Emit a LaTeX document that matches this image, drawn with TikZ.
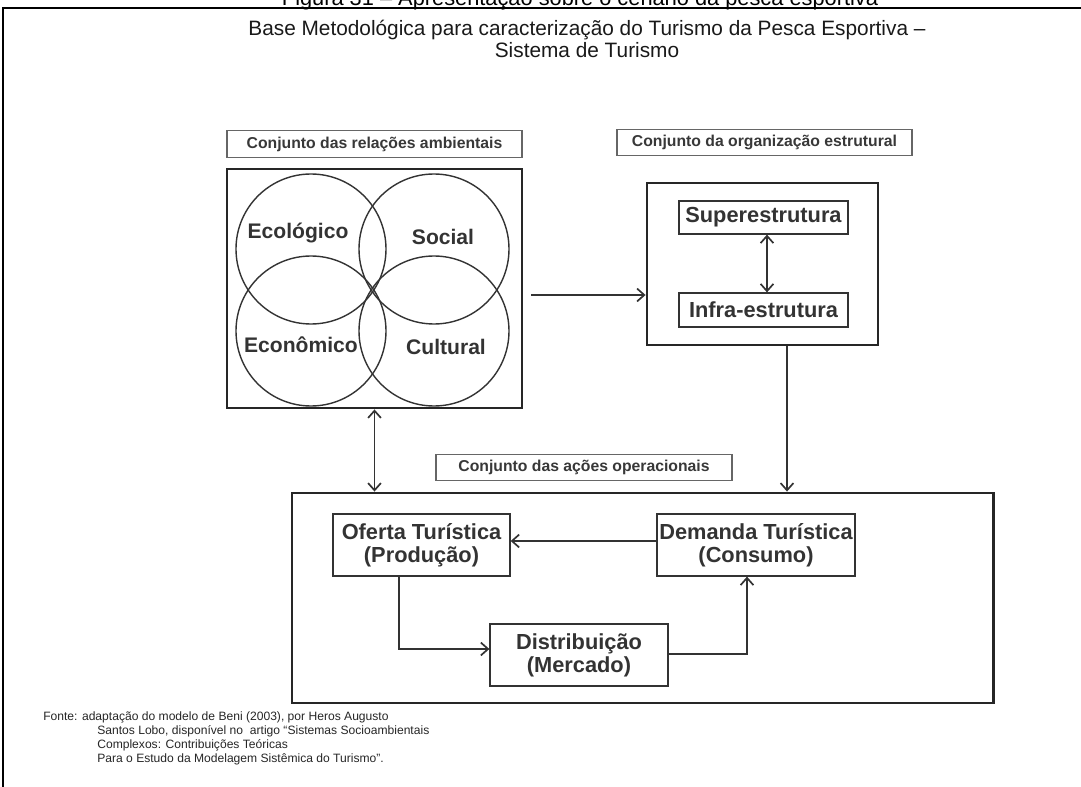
\documentclass[tikz,border=0pt]{standalone}
\usepackage{fontspec}
\setmainfont{Liberation Sans}
\usetikzlibrary{arrows.meta}
\definecolor{ink}{gray}{0.2}
\tikzset{
  flowarr/.style  = {-{Straight Barb[length=1.8mm,width=3.2mm]},line width=1.2pt,draw=ink},
  bootharr/.style = {{Straight Barb[length=1.8mm,width=3.2mm]}-{Straight Barb[length=1.8mm,width=3.2mm]},line width=1.2pt,draw=ink},
  bigbox/.style   = {draw=black!85,line width=2pt,inner sep=0pt},
  stepbox/.style  = {draw=ink,line width=0.9pt,inner sep=0pt,align=center,text=ink,
                     font=\fontsize{15.5}{16.5}\selectfont\bfseries},
  tagbox/.style   = {draw=black!60,line width=0.9pt,inner sep=0pt,text=black!78,
                     minimum height=0.66cm,font=\fontsize{11.2}{12}\selectfont\bfseries},
  venn/.style     = {draw=ink,line width=1pt},
  vennlbl/.style  = {text=ink,font=\fontsize{15}{17}\selectfont\bfseries}
}

\begin{document}
\begin{tikzpicture}[x=0.025cm,y=-0.025cm]
  \useasboundingbox (0,0) rectangle (1081,787);
  \draw[line width=1.3pt] (3,787) -- (3,8) -- (1081,8);
  \node[anchor=base,font=\fontsize{15.5}{18}\selectfont] (caption) at (580,6)
    {Figura 31 -- Apresentação sobre o cenário da pesca esportiva};
  \node[align=center,text=black!90,font=\fontsize{14.8}{15.6}\selectfont] (title) at (587,39)
    {Base Metodológica para caracterização do Turismo da Pesca Esportiva --\\Sistema de Turismo};

  % conjunto das relações ambientais
  \node[tagbox,minimum width=7.375cm] (tagamb) at (374.5,144) {Conjunto das relações ambientais};
  \node[bigbox,minimum width=7.375cm,minimum height=5.975cm] (amb) at (374.5,288.5) {};
  \draw[venn] (311,249) circle[radius=75];
  \draw[venn] (434,249) circle[radius=75];
  \draw[venn] (311,331) circle[radius=75];
  \draw[venn] (434,331) circle[radius=75];
  \node[vennlbl] (ecol) at (298,233) {Ecológico};
  \node[vennlbl] (soc)  at (443,237) {Social};
  \node[vennlbl] (econ) at (301,345) {Econômico};
  \node[vennlbl] (cult) at (446,347) {Cultural};

  % conjunto da organização estrutural
  \node[tagbox,minimum width=7.375cm] (tagorg) at (764.5,142.5) {Conjunto da organização estrutural};
  \node[bigbox,minimum width=5.775cm,minimum height=4.05cm] (org) at (762.5,264) {};
  \node[stepbox,minimum width=4.225cm,minimum height=0.825cm] (sup) at (763.5,217.5) {Superestrutura};
  \node[stepbox,minimum width=4.225cm,minimum height=0.85cm] (inf) at (763.5,310) {Infra-estrutura};
  \draw[bootharr] (sup.south -| 767,0) -- (inf.north -| 767,0);

  % conjunto das ações operacionais
  \node[tagbox,minimum width=7.4cm] (tagop) at (584,467.5) {Conjunto das ações operacionais};
  \node[bigbox,minimum width=17.525cm,minimum height=5.25cm] (op) at (642.5,598) {};
  \node[stepbox,minimum width=4.425cm,minimum height=1.55cm] (ofe) at (421.5,545) {Oferta Turística\\(Produção)};
  \node[stepbox,minimum width=4.95cm,minimum height=1.55cm] (dem) at (756,545) {Demanda Turística\\(Consumo)};
  \node[stepbox,minimum width=4.45cm,minimum height=1.55cm] (dis) at (579,655) {Distribuição\\(Mercado)};

  \coordinate (ambout) at (531,295);
  \draw[flowarr] (ambout) -- (org.west |- ambout);
  \draw[bootharr] (amb.south) -- (op.north -| amb.south);
  \draw[flowarr] (org.south -| 787,0) -- (op.north -| 787,0);
  \draw[flowarr] (dem.west |- 0,541) -- (ofe.east |- 0,541);
  \draw[flowarr] (ofe.south -| 399,0) |- (dis.west |- 0,649);
  \draw[flowarr] (dis.east |- 0,654) -| (dem.south -| 747,0);

  \node[anchor=north west,align=left,inner sep=0pt,text=black!85,
        font=\fontsize{8.6}{10}\selectfont] (fonte) at (43,711)
    {Fonte: adaptação do modelo de Beni (2003), por Heros Augusto\\
     \hspace*{1.35cm}Santos Lobo, disponível no\ \ artigo “Sistemas Socioambientais\\
     \hspace*{1.35cm}Complexos: Contribuições Teóricas\\
     \hspace*{1.35cm}Para o Estudo da Modelagem Sistêmica do Turismo”.};
\end{tikzpicture}
\end{document}
